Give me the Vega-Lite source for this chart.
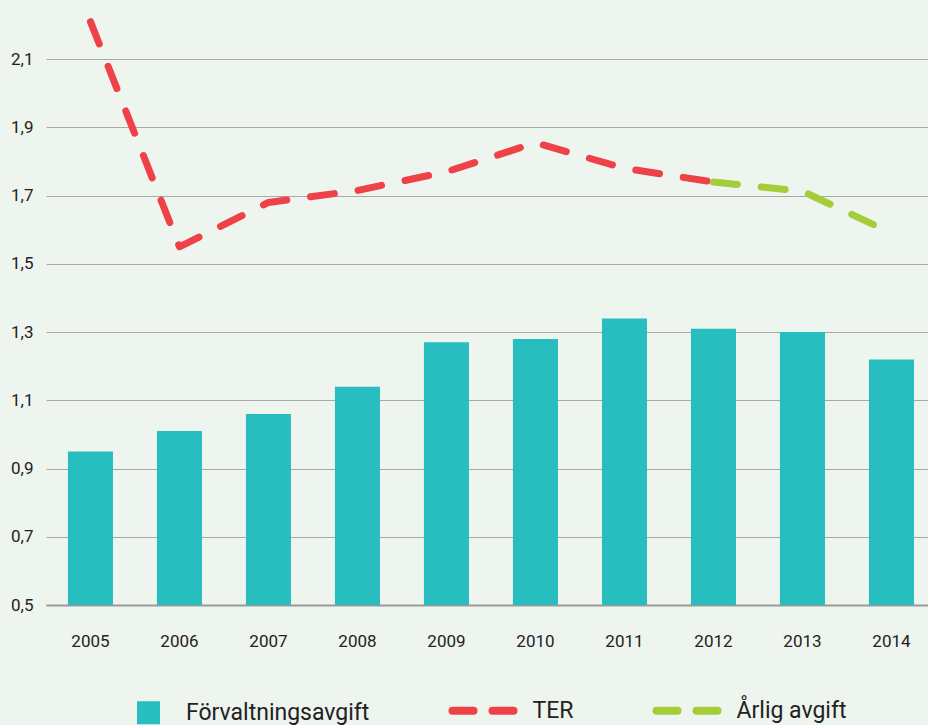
{
  "$schema": "https://vega.github.io/schema/vega-lite/v6.json",
  "autosize": {"type": "none"},
  "width": 882,
  "height": 597,
  "padding": {"left": 46, "top": 8, "right": 0, "bottom": 120},
  "background": "#eef4ee",
  "config": {
    "view": {"stroke": null},
    "font": "Roboto, Lato, sans-serif"
  },
  "data": {
    "values": [
      {"year": "2005", "value": 0.95, "series": "Förvaltningsavgift"},
      {"year": "2006", "value": 1.01, "series": "Förvaltningsavgift"},
      {"year": "2007", "value": 1.06, "series": "Förvaltningsavgift"},
      {"year": "2008", "value": 1.14, "series": "Förvaltningsavgift"},
      {"year": "2009", "value": 1.27, "series": "Förvaltningsavgift"},
      {"year": "2010", "value": 1.28, "series": "Förvaltningsavgift"},
      {"year": "2011", "value": 1.34, "series": "Förvaltningsavgift"},
      {"year": "2012", "value": 1.31, "series": "Förvaltningsavgift"},
      {"year": "2013", "value": 1.30, "series": "Förvaltningsavgift"},
      {"year": "2014", "value": 1.22, "series": "Förvaltningsavgift"},
      {"year": "2005", "value": 2.21, "series": "TER"},
      {"year": "2006", "value": 1.55, "series": "TER"},
      {"year": "2007", "value": 1.68, "series": "TER"},
      {"year": "2008", "value": 1.715, "series": "TER"},
      {"year": "2009", "value": 1.77, "series": "TER"},
      {"year": "2010", "value": 1.855, "series": "TER"},
      {"year": "2011", "value": 1.78, "series": "TER"},
      {"year": "2012", "value": 1.74, "series": "TER"},
      {"year": "2012", "value": 1.74, "series": "Årlig avgift"},
      {"year": "2013", "value": 1.713, "series": "Årlig avgift"},
      {"year": "2014", "value": 1.59, "series": "Årlig avgift"}
    ]
  },
  "encoding": {
    "x": {
      "field": "year",
      "type": "ordinal",
      "scale": {"paddingInner": 0.494, "paddingOuter": 0.202, "align": 0.61},
      "axis": {
        "title": null,
        "labelAngle": 0,
        "ticks": false,
        "grid": false,
        "domain": true,
        "domainColor": "#9a9a9a",
        "domainWidth": 2,
        "labelPadding": 28,
        "labelFontSize": 17,
        "labelColor": "#222222"
      }
    },
    "y": {
      "field": "value",
      "type": "quantitative",
      "scale": {"domain": [0.5, 2.25], "zero": false, "nice": false},
      "axis": {
        "title": null,
        "values": [0.5, 0.7, 0.9, 1.1, 1.3, 1.5, 1.7, 1.9, 2.1],
        "format": ".1f",
        "labelExpr": "replace(datum.label, '.', ',')",
        "domain": false,
        "ticks": false,
        "grid": true,
        "gridColor": "#a8a8a8",
        "gridWidth": 1.2,
        "labelPadding": 13,
        "labelFontSize": 17,
        "labelColor": "#222222"
      }
    },
    "color": {
      "field": "series",
      "type": "nominal",
      "scale": {
        "domain": ["Förvaltningsavgift", "TER", "Årlig avgift"],
        "range": ["#28bdbf", "#ef4148", "#a5cd39"]
      },
      "legend": {
        "title": null,
        "orient": "none",
        "legendX": 91,
        "legendY": 691,
        "direction": "horizontal",
        "labelFontSize": 23,
        "labelColor": "#222222",
        "labelLimit": 400,
        "columnPadding": 66,
        "encode": {
          "symbols": {
            "update": {
              "shape": {"signal": "datum.value === 'Förvaltningsavgift' ? 'square' : 'stroke'"},
              "size": {"signal": "datum.value === 'Förvaltningsavgift' ? 529 : 3721"},
              "x": {"signal": "datum.value === 'Förvaltningsavgift' ? 11.5 : 35"},
              "fill": {"signal": "datum.value === 'Förvaltningsavgift' ? '#28bdbf' : 'transparent'"},
              "stroke": {"signal": "datum.value === 'TER' ? '#ef4148' : (datum.value === 'Årlig avgift' ? '#a5cd39' : 'transparent')"},
              "strokeWidth": {"signal": "datum.value === 'Förvaltningsavgift' ? 0 : 8"},
              "strokeDash": {"signal": "datum.value === 'Förvaltningsavgift' ? [] : [21, 19]"},
              "strokeCap": {"value": "round"},
              "opacity": {"value": 1}
            }
          },
          "labels": {
            "update": {
              "x": {"signal": "datum.value === 'Förvaltningsavgift' ? 49 : 84.5"}
            }
          }
        }
      }
    }
  },
  "layer": [
    {
      "transform": [{"filter": "datum.series === 'Förvaltningsavgift'"}],
      "mark": {"type": "bar"},
      "encoding": {"y2": {"datum": 0.5}}
    },
    {
      "transform": [{"filter": "datum.series !== 'Förvaltningsavgift'"}],
      "mark": {"type": "line", "strokeWidth": 7, "strokeDash": [24, 24], "strokeCap": "round", "strokeJoin": "round"}
    }
  ]
}
